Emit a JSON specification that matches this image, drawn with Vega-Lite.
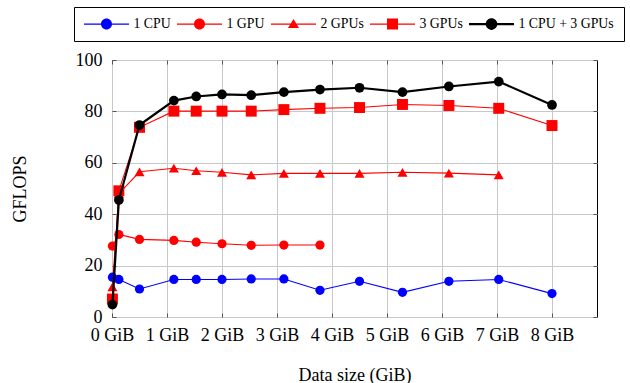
{
  "$schema": "https://vega.github.io/schema/vega-lite/v6.json",
  "width": 485,
  "height": 257,
  "autosize": {"type": "none"},
  "padding": {"left": 112, "top": 60, "right": 33, "bottom": 66},
  "background": "white",
  "config": {
    "font": "Liberation Serif",
    "view": {"stroke": "black", "strokeWidth": 1}
  },
  "resolve": {
    "axis": {"x": "independent", "y": "independent"},
    "legend": {"color": "independent", "shape": "independent"}
  },
  "data": {
    "values": [
      {"series": "1 CPU", "size": 0.0078125, "gflops": 15.5},
      {"series": "1 CPU", "size": 0.125, "gflops": 14.6},
      {"series": "1 CPU", "size": 0.5, "gflops": 10.9},
      {"series": "1 CPU", "size": 1.125, "gflops": 14.6},
      {"series": "1 CPU", "size": 1.53125, "gflops": 14.6},
      {"series": "1 CPU", "size": 2, "gflops": 14.6},
      {"series": "1 CPU", "size": 2.53125, "gflops": 14.8},
      {"series": "1 CPU", "size": 3.125, "gflops": 14.8},
      {"series": "1 CPU", "size": 3.78125, "gflops": 10.4},
      {"series": "1 CPU", "size": 4.5, "gflops": 13.9},
      {"series": "1 CPU", "size": 5.28125, "gflops": 9.6},
      {"series": "1 CPU", "size": 6.125, "gflops": 13.9},
      {"series": "1 CPU", "size": 7.03125, "gflops": 14.6},
      {"series": "1 CPU", "size": 8, "gflops": 9.1},
      {"series": "1 GPU", "size": 0.0078125, "gflops": 27.6},
      {"series": "1 GPU", "size": 0.125, "gflops": 32.1},
      {"series": "1 GPU", "size": 0.5, "gflops": 30.2},
      {"series": "1 GPU", "size": 1.125, "gflops": 29.8},
      {"series": "1 GPU", "size": 1.53125, "gflops": 29.1},
      {"series": "1 GPU", "size": 2, "gflops": 28.5},
      {"series": "1 GPU", "size": 2.53125, "gflops": 27.9},
      {"series": "1 GPU", "size": 3.125, "gflops": 28.0},
      {"series": "1 GPU", "size": 3.78125, "gflops": 28.0},
      {"series": "2 GPUs", "size": 0.0078125, "gflops": 11.7},
      {"series": "2 GPUs", "size": 0.125, "gflops": 48.0},
      {"series": "2 GPUs", "size": 0.5, "gflops": 56.5},
      {"series": "2 GPUs", "size": 1.125, "gflops": 57.9},
      {"series": "2 GPUs", "size": 1.53125, "gflops": 56.9},
      {"series": "2 GPUs", "size": 2, "gflops": 56.3},
      {"series": "2 GPUs", "size": 2.53125, "gflops": 55.3},
      {"series": "2 GPUs", "size": 3.125, "gflops": 55.9},
      {"series": "2 GPUs", "size": 3.78125, "gflops": 55.9},
      {"series": "2 GPUs", "size": 4.5, "gflops": 55.9},
      {"series": "2 GPUs", "size": 5.28125, "gflops": 56.3},
      {"series": "2 GPUs", "size": 6.125, "gflops": 56.0},
      {"series": "2 GPUs", "size": 7.03125, "gflops": 55.3},
      {"series": "3 GPUs", "size": 0.0078125, "gflops": 7.0},
      {"series": "3 GPUs", "size": 0.125, "gflops": 49.1},
      {"series": "3 GPUs", "size": 0.5, "gflops": 73.8},
      {"series": "3 GPUs", "size": 1.125, "gflops": 80.1},
      {"series": "3 GPUs", "size": 1.53125, "gflops": 80.1},
      {"series": "3 GPUs", "size": 2, "gflops": 80.1},
      {"series": "3 GPUs", "size": 2.53125, "gflops": 80.1},
      {"series": "3 GPUs", "size": 3.125, "gflops": 80.7},
      {"series": "3 GPUs", "size": 3.78125, "gflops": 81.2},
      {"series": "3 GPUs", "size": 4.5, "gflops": 81.5},
      {"series": "3 GPUs", "size": 5.28125, "gflops": 82.7},
      {"series": "3 GPUs", "size": 6.125, "gflops": 82.3},
      {"series": "3 GPUs", "size": 7.03125, "gflops": 81.2},
      {"series": "3 GPUs", "size": 8, "gflops": 74.5},
      {"series": "1 CPU + 3 GPUs", "size": 0.0078125, "gflops": 4.8},
      {"series": "1 CPU + 3 GPUs", "size": 0.125, "gflops": 45.5},
      {"series": "1 CPU + 3 GPUs", "size": 0.5, "gflops": 74.7},
      {"series": "1 CPU + 3 GPUs", "size": 1.125, "gflops": 84.2},
      {"series": "1 CPU + 3 GPUs", "size": 1.53125, "gflops": 85.8},
      {"series": "1 CPU + 3 GPUs", "size": 2, "gflops": 86.6},
      {"series": "1 CPU + 3 GPUs", "size": 2.53125, "gflops": 86.3},
      {"series": "1 CPU + 3 GPUs", "size": 3.125, "gflops": 87.5},
      {"series": "1 CPU + 3 GPUs", "size": 3.78125, "gflops": 88.5},
      {"series": "1 CPU + 3 GPUs", "size": 4.5, "gflops": 89.2},
      {"series": "1 CPU + 3 GPUs", "size": 5.28125, "gflops": 87.5},
      {"series": "1 CPU + 3 GPUs", "size": 6.125, "gflops": 89.7},
      {"series": "1 CPU + 3 GPUs", "size": 7.03125, "gflops": 91.6},
      {"series": "1 CPU + 3 GPUs", "size": 8, "gflops": 82.5}
    ]
  },
  "layer": [
    {
      "transform": [{"filter": {"field": "series", "oneOf": ["1 CPU", "1 GPU", "2 GPUs", "3 GPUs"]}}],
      "mark": {"type": "line", "strokeWidth": 1.1},
      "encoding": {
        "x": {
          "field": "size", "type": "quantitative",
          "scale": {"domain": [0, 8.818], "nice": false, "zero": false},
          "axis": {
            "orient": "bottom",
            "values": [0, 1, 2, 3, 4, 5, 6, 7, 8],
            "labelExpr": "datum.value + ' GiB'",
            "grid": true, "gridColor": "#c8c8c8", "gridWidth": 1,
            "domain": false, "ticks": true, "tickSize": -4, "tickColor": "#555555",
            "labelFont": "Liberation Serif", "labelFontSize": 18, "labelColor": "black",
            "labelPadding": 13, "labelFlush": false, "labelOverlap": false,
            "title": "Data size (GiB)", "titleFont": "Liberation Serif", "titleFontSize": 18,
            "titleFontWeight": "normal", "titleColor": "black", "titleY": 63, "titleBaseline": "alphabetic"
          }
        },
        "y": {
          "field": "gflops", "type": "quantitative",
          "scale": {"domain": [0, 100], "nice": false},
          "axis": {
            "orient": "left",
            "values": [0, 20, 40, 60, 80, 100],
            "grid": true, "gridColor": "#c8c8c8", "gridWidth": 1,
            "domain": false, "ticks": true, "tickSize": -4, "tickColor": "#555555",
            "labelFont": "Liberation Serif", "labelFontSize": 18, "labelColor": "black",
            "labelPadding": 14, "labelOverlap": false,
            "title": "GFLOPS", "titleFont": "Liberation Serif", "titleFontSize": 18,
            "titleFontWeight": "normal", "titleColor": "black",
            "titleX": -87, "titleY": 128.5, "titleAngle": 270, "titleBaseline": "alphabetic", "titleAlign": "center"
          }
        },
        "color": {
          "field": "series", "type": "nominal",
          "scale": {"domain": ["1 CPU", "1 GPU", "2 GPUs", "3 GPUs", "1 CPU + 3 GPUs"], "range": ["#0000ff", "#ff0000", "#ff0000", "#ff0000", "#000000"]},
          "legend": null
        }
      }
    },
    {
      "transform": [{"filter": {"field": "series", "oneOf": ["1 CPU", "1 GPU"]}}],
      "mark": {"type": "point", "shape": "circle", "filled": true, "opacity": 1, "size": 85},
      "encoding": {
        "x": {"field": "size", "type": "quantitative", "axis": null},
        "y": {"field": "gflops", "type": "quantitative", "axis": null},
        "color": {"field": "series", "type": "nominal", "legend": null}
      }
    },
    {
      "transform": [{"filter": {"field": "series", "equal": "2 GPUs"}}],
      "mark": {"type": "point", "shape": "triangle-up", "filled": true, "opacity": 1, "size": 100},
      "encoding": {
        "x": {"field": "size", "type": "quantitative", "axis": null},
        "y": {"field": "gflops", "type": "quantitative", "axis": null},
        "color": {"field": "series", "type": "nominal", "legend": null}
      }
    },
    {
      "transform": [{"filter": {"field": "series", "equal": "3 GPUs"}}],
      "mark": {"type": "point", "shape": "square", "filled": true, "opacity": 1, "size": 120},
      "encoding": {
        "x": {"field": "size", "type": "quantitative", "axis": null},
        "y": {"field": "gflops", "type": "quantitative", "axis": null},
        "color": {"field": "series", "type": "nominal", "legend": null}
      }
    },
    {
      "transform": [{"filter": {"field": "series", "equal": "1 CPU + 3 GPUs"}}],
      "mark": {"type": "line", "strokeWidth": 2.2},
      "encoding": {
        "x": {"field": "size", "type": "quantitative", "axis": null},
        "y": {"field": "gflops", "type": "quantitative", "axis": null},
        "color": {"field": "series", "type": "nominal", "legend": null}
      }
    },
    {
      "transform": [{"filter": {"field": "series", "equal": "1 CPU + 3 GPUs"}}],
      "mark": {"type": "point", "shape": "circle", "filled": true, "opacity": 1, "size": 95},
      "encoding": {
        "x": {"field": "size", "type": "quantitative", "axis": null},
        "y": {"field": "gflops", "type": "quantitative", "axis": null},
        "color": {"field": "series", "type": "nominal", "legend": null}
      }
    },
    {
      "mark": {"type": "point", "filled": true, "opacity": 0},
      "encoding": {
        "x": {"field": "size", "type": "quantitative",
          "axis": {"orient": "top", "values": [0, 1, 2, 3, 4, 5, 6, 7, 8], "labels": false, "grid": false, "domain": false, "ticks": true, "tickSize": -4, "tickColor": "#555555", "title": null}},
        "y": {"field": "gflops", "type": "quantitative",
          "axis": {"orient": "right", "values": [0, 20, 40, 60, 80, 100], "labels": false, "grid": false, "domain": false, "ticks": true, "tickSize": -4, "tickColor": "#555555", "title": null}},
        "color": {
          "field": "series", "type": "nominal",
          "legend": {
            "orient": "none", "legendX": -38, "legendY": -53, "direction": "horizontal", "columns": 5,
            "title": null, "symbolSize": 196, "symbolStrokeWidth": 0, "symbolOpacity": 1,
            "symbolOffset": 15.5, "labelOffset": 20, "columnPadding": 6, "padding": 10,
            "strokeColor": "black", "fillColor": "white",
            "labelFont": "Liberation Serif", "labelFontSize": 13.8, "labelColor": "black", "labelBaseline": "middle"
          }
        },
        "shape": {
          "field": "series", "type": "nominal",
          "scale": {
            "domain": ["1 CPU", "1 GPU", "2 GPUs", "3 GPUs", "1 CPU + 3 GPUs"],
            "range": [
              "M-3.214,-0.0786H-0.5V0.0786H-3.214Z M0.5,-0.0786H3.214V0.0786H0.5Z M-0.786,0A0.786,0.786,0,1,1,0.786,0A0.786,0.786,0,1,1,-0.786,0Z",
              "M-3.214,-0.0786H-0.5V0.0786H-3.214Z M0.5,-0.0786H3.214V0.0786H0.5Z M-0.786,0A0.786,0.786,0,1,1,0.786,0A0.786,0.786,0,1,1,-0.786,0Z",
              "M-3.214,-0.0786H-0.3V0.0786H-3.214Z M0.3,-0.0786H3.214V0.0786H0.3Z M0,-0.714L0.786,0.571L-0.786,0.571Z",
              "M-3.214,-0.0786H-0.5V0.0786H-3.214Z M0.5,-0.0786H3.214V0.0786H0.5Z M-0.786,-0.786H0.786V0.786H-0.786Z",
              "M-3.214,-0.157H-0.5V0.157H-3.214Z M0.5,-0.157H3.214V0.157H0.5Z M-0.829,0A0.829,0.829,0,1,1,0.829,0A0.829,0.829,0,1,1,-0.829,0Z"
            ]
          },
          "legend": {
            "orient": "none", "legendX": -38, "legendY": -53, "direction": "horizontal", "columns": 5,
            "title": null, "symbolSize": 196, "symbolStrokeWidth": 0, "symbolOpacity": 1,
            "symbolOffset": 15.5, "labelOffset": 20, "columnPadding": 6, "padding": 10,
            "strokeColor": "black", "fillColor": "white",
            "labelFont": "Liberation Serif", "labelFontSize": 13.8, "labelColor": "black", "labelBaseline": "middle"
          }
        }
      }
    }
  ]
}
